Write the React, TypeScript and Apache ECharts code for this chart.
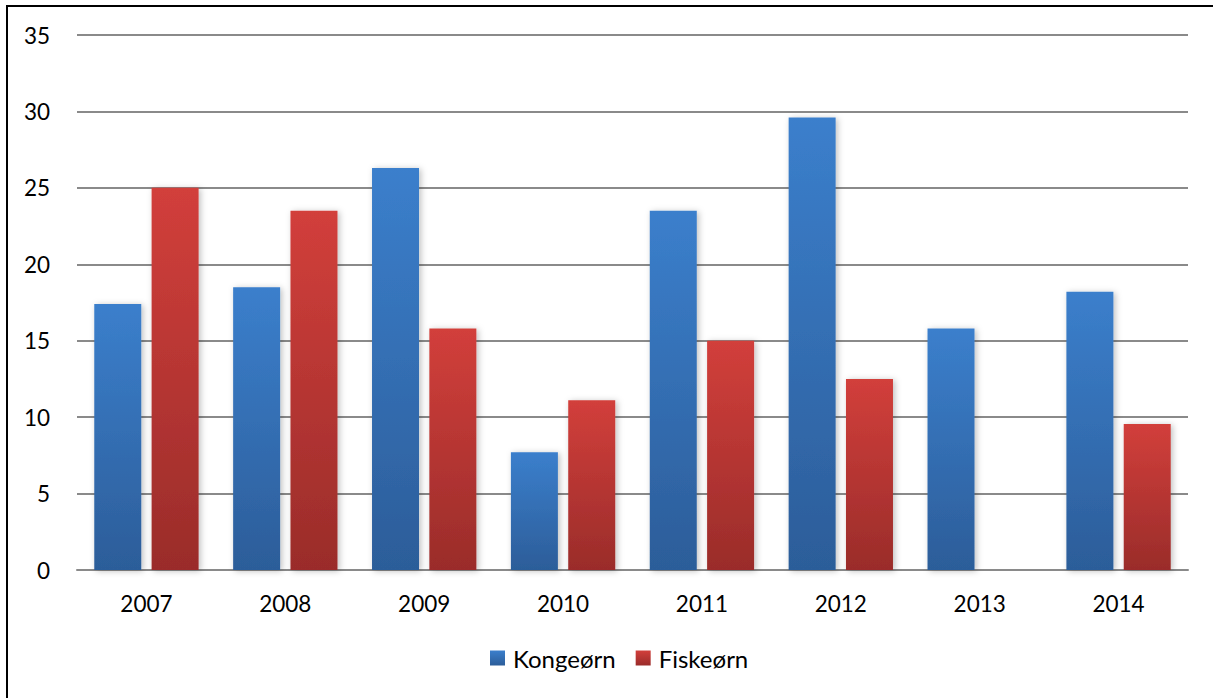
import React, { useEffect, useRef } from "react";
import * as echarts from "echarts";

const categories = ["2007", "2008", "2009", "2010", "2011", "2012", "2013", "2014"];
const kongeorn = [17.4, 18.5, 26.3, 7.7, 23.5, 29.6, 15.8, 18.2];
const fiskeorn = [25.0, 23.5, 15.8, 11.1, 15.0, 12.5, null, 9.55];
const seriesNames = ["Kongeørn", "Fiskeørn"];

const FONT = "Lato, 'Open Sans', sans-serif";

export default function App() {
  const ref = useRef<HTMLDivElement>(null);
  useEffect(() => {
    if (!ref.current) return;
    const chart = echarts.init(ref.current, undefined, { renderer: "svg" });
    const blue = new echarts.graphic.LinearGradient(0, 0, 0, 1, [
      { offset: 0, color: "#3b7fcc" },
      { offset: 1, color: "#2c5d99" },
    ]);
    const red = new echarts.graphic.LinearGradient(0, 0, 0, 1, [
      { offset: 0, color: "#d23f3b" },
      { offset: 1, color: "#9a2c2a" },
    ]);
    chart.setOption({
      animation: false,
      backgroundColor: "#ffffff",
      graphic: [
        {
          type: "rect",
          shape: { x: 7, y: 6, width: 1400, height: 900 },
          style: { fill: "none", stroke: "#000", lineWidth: 2 },
          silent: true,
        },
      ],
      grid: { left: 77, right: 25, top: 35, bottom: 128, containLabel: false },
      legend: {
        bottom: 23,
        left: 485,
        itemWidth: 15,
        itemHeight: 15,
        itemGap: 20,
        icon: "rect",
        textStyle: { fontFamily: FONT, fontSize: 24, color: "#000", padding: [0, 0, 0, 3] },
        data: seriesNames,
      },
      xAxis: {
        type: "category",
        data: categories,
        axisLine: { lineStyle: { color: "#8a8a8a", width: 2 } },
        axisTick: { show: false },
        axisLabel: { fontFamily: FONT, fontSize: 22.5, color: "#000", margin: 22 },
      },
      yAxis: {
        type: "value",
        min: 0,
        max: 35,
        interval: 5,
        axisLine: { show: false },
        axisTick: { show: false },
        splitLine: { lineStyle: { color: "#8a8a8a", width: 2 } },
        axisLabel: { fontFamily: FONT, fontSize: 22.5, color: "#000", margin: 27 },
      },
      series: [
        {
          name: seriesNames[0],
          type: "bar",
          data: kongeorn,
          barWidth: 47,
          barGap: "22%",
          itemStyle: {
            color: blue,
            shadowColor: "rgba(0,0,0,0.25)",
            shadowBlur: 6,
            shadowOffsetX: 2,
            shadowOffsetY: 1,
          },
        },
        {
          name: seriesNames[1],
          type: "bar",
          data: fiskeorn,
          barWidth: 47,
          barGap: "22%",
          itemStyle: {
            color: red,
            shadowColor: "rgba(0,0,0,0.25)",
            shadowBlur: 6,
            shadowOffsetX: 2,
            shadowOffsetY: 1,
          },
        },
      ],
    });
    return () => chart.dispose();
  }, []);
  return (
    <div
      ref={ref}
      style={{ position: "fixed", left: 0, top: 0, width: 1213, height: 698 }}
    />
  );
}
